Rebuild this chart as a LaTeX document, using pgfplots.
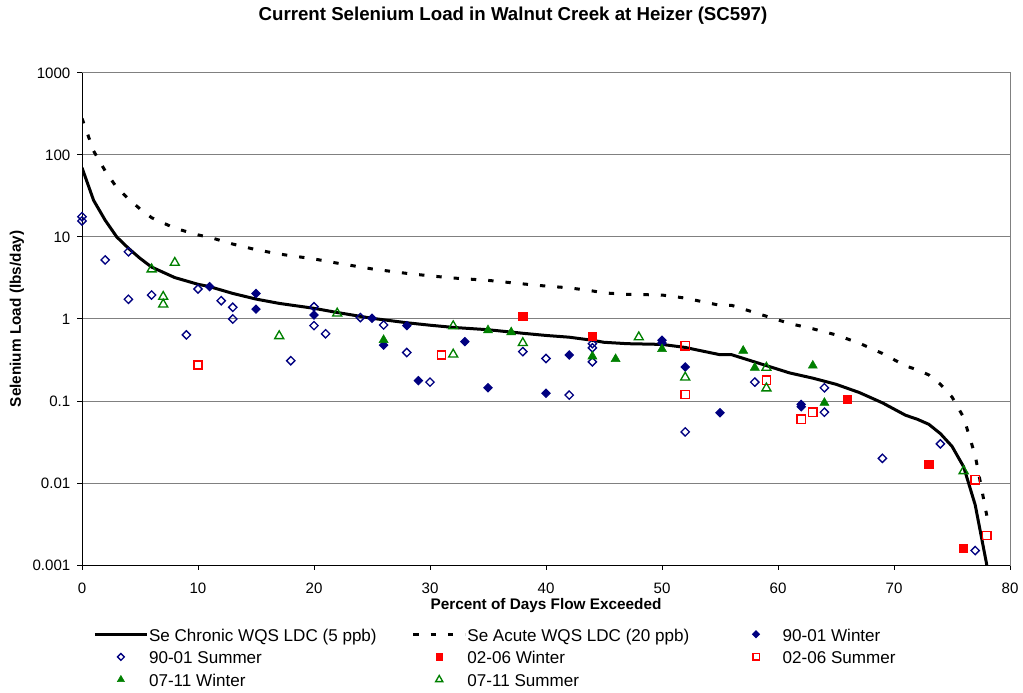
\documentclass[border=0pt]{standalone}
\usepackage{fontspec}
\setmainfont{Liberation Sans}
\usepackage{pgfplots}
\pgfplotsset{compat=1.18}
\definecolor{navy}{HTML}{000080}
\definecolor{xred}{HTML}{FF0000}
\definecolor{xgreen}{HTML}{008000}
\definecolor{gridgray}{HTML}{808080}
\pgfplotsset{
  mylegline/.style={legend image code/.code={\draw[##1] (0pt,2pt) -- (39pt,2pt);}},
  mylegmark/.style={legend image code/.code={\path[draw=none,fill=none] (0pt,2pt) -- (39pt,2pt); \draw[##1, mark size=#1] plot coordinates {(19.5pt,2pt)};}},
}
\newcommand{\lt}[1]{\makebox[197.5pt][l]{\hspace{0.5pt}#1}}
\begin{document}
\begin{tikzpicture}
\useasboundingbox (0,0) rectangle (767.25pt,519pt);
\node[font=\bfseries\fontsize{14}{16}\selectfont, anchor=center] at (384.75pt,507pt) {Current Selenium Load in Walnut Creek at Heizer (SC597)};
\begin{axis}[
  at={(61.5pt,95.25pt)}, anchor=south west,
  scale only axis, width=696pt, height=369pt,
  xmin=0, xmax=80, ymode=log, ymin=0.001, ymax=1000,
  xtick={0,10,20,30,40,50,60,70,80},
  xticklabels={0,10,20,30,40,50,60,70,80},
  ytick={0.001,0.01,0.1,1,10,100,1000},
  yticklabels={0.001,0.01,0.1,1,10,100,1000},
  yminorticks=false, xminorticks=false,
  tick align=outside, tick pos=left, major tick length=3.75pt,
  tick style={black, line width=0.75pt},
  ymajorgrids, grid style={gridgray, line width=0.75pt},
  axis line style={gridgray, line width=0.75pt},
  ticklabel style={font=\fontsize{11.3}{13}\selectfont},
  xticklabel style={yshift=-6pt},
  yticklabel style={xshift=-1.5pt},
  xlabel={Percent of Days Flow Exceeded},
  xlabel style={at={(axis description cs:0.5,-0.0833)}, anchor=center, font=\bfseries\fontsize{11.5}{13}\selectfont},
  ylabel={Selenium Load (lbs/day)},
  ylabel style={at={(axis description cs:-0.070,0.5)}, anchor=center, rotate=0, font=\bfseries\fontsize{11.5}{13}\selectfont},
  legend columns=3,
  legend cell align=left,
  legend style={at={(axis description cs:0.012,-0.1287)}, anchor=north west, draw=none, fill=none, inner sep=0pt,
    font=\fontsize{12.8}{15}\selectfont,
    nodes={inner sep=0pt, text height=9.5pt, text depth=3pt},
    row sep=4.5pt,
    /tikz/every even column/.append style={column sep=0pt}},
  clip=true,
]
% Chronic
\addplot[black, line width=2.25pt, line join=round, mylegline] coordinates {
(0,70) (1,28) (2,16) (3,10) (4,7.3) (5,5.5) (6,4.3) (8,3.2) (10,2.65) (11,2.48)
(13,2.05) (15,1.75) (17,1.55) (20,1.35) (22,1.2) (25,1.02) (28,0.9) (30,0.84)
(32,0.79) (35,0.74) (38,0.67) (40,0.63) (42,0.6) (44,0.55) (45,0.52) (47,0.5)
(50,0.49) (52,0.45) (53,0.42) (55,0.367) (56,0.367) (59,0.27) (61,0.22) (63,0.19)
(65,0.16) (67,0.127) (69,0.095) (71,0.067) (72,0.06) (73,0.052) (74,0.04) (75,0.028)
(76,0.0158) (77,0.0054) (78,0.001)
};
\addlegendentry{\lt{Se Chronic WQS LDC (5 ppb)}}
% Acute
\addplot[black, line width=2.25pt, dash pattern=on 4pt off 9pt, mylegline] coordinates {
(0,280) (1,112) (2,64) (3,40) (4,29.2) (5,22) (6,17.2) (8,12.8) (10,10.6) (11,9.92)
(13,8.2) (15,7) (17,6.2) (20,5.4) (22,4.8) (25,4.08) (28,3.6) (30,3.36)
(32,3.16) (35,2.96) (38,2.68) (40,2.52) (42,2.4) (44,2.2) (45,2.08) (47,2)
(50,1.96) (52,1.8) (53,1.68) (55,1.468) (56,1.468) (59,1.08) (61,0.88) (63,0.76)
(65,0.64) (67,0.508) (69,0.38) (71,0.268) (72,0.24) (73,0.208) (74,0.16) (75,0.112)
(76,0.0632) (77,0.0216) (78,0.004)
};
\addlegendentry{\lt{Se Acute WQS LDC (20 ppb)}}
% 90-01 Winter
\addplot[navy, only marks, mark=square*, mark size=2.2pt, mark options={rotate=45, solid, fill=navy, line width=0.75pt}, mylegmark=1.8pt] coordinates {
(11,2.48) (15,2.05) (15,1.32) (20,1.12) (25,1.02) (26,0.48) (28,0.83) (29,0.177)
(33,0.53) (35,0.145) (40,0.124) (42,0.364) (50,0.55) (50,0.51) (52,0.26) (55,0.072)
(62,0.091) (62,0.085)
};
\addlegendentry{\lt{90-01 Winter}}
% 90-01 Summer
\addplot[navy, only marks, mark=square, mark size=2.2pt, mark options={rotate=45, solid, fill=white, line width=1pt}, mylegmark=1.8pt] coordinates {
(0,17.7) (0,15.7) (2,5.25) (4,6.6) (4,1.74) (6,1.96) (9,0.64) (10,2.32) (12,1.67)
(13,1.39) (13,1.0) (18,0.31) (20,1.41) (20,0.83) (21,0.66) (24,1.04) (26,0.845)
(28,0.39) (30,0.17) (38,0.40) (40,0.33) (42,0.118) (44,0.50) (44,0.445) (44,0.30)
(52,0.042) (58,0.17) (64,0.145) (64,0.073) (69,0.020) (74,0.030) (77,0.0015)
};
\addlegendentry{\lt{90-01 Summer}}
% 02-06 Winter
\addplot[xred, only marks, mark=square*, mark size=3.1pt, mark options={solid, fill=xred}, mylegmark=2.4pt] coordinates {
(38,1.09) (44,0.61) (66,0.105) (73,0.0169) (76,0.0016)
};
\addlegendentry{\lt{02-06 Winter}}
% 02-06 Summer
\addplot[xred, only marks, mark=square, mark size=3.1pt, mark options={solid, fill=white, line width=1pt}, mylegmark=2.4pt] coordinates {
(10,0.275) (31,0.364) (52,0.47) (52,0.12) (59,0.18) (62,0.06) (63,0.073) (77,0.0109) (78,0.0023)
};
\addlegendentry{\lt{02-06 Summer}}
% 07-11 Winter
\addplot[xgreen, only marks, mark=triangle*, mark size=3.9pt, mark options={solid, fill=xgreen}, mylegmark=3.1pt] coordinates {
(26,0.555) (35,0.73) (37,0.69) (44,0.35) (46,0.325) (50,0.43) (57,0.41) (58,0.255) (63,0.27) (64,0.095)
};
\addlegendentry{\lt{07-11 Winter}}
% 07-11 Summer
\addplot[xgreen, only marks, mark=triangle, mark size=3.9pt, mark options={solid, fill=white, line width=1pt}, mylegmark=3.1pt] coordinates {
(6,4.04) (8,4.86) (7,1.87) (7,1.51) (17,0.62) (22,1.17) (32,0.82) (32,0.37) (38,0.51)
(48,0.60) (52,0.194) (59,0.255) (59,0.143) (76,0.014)
};
\addlegendentry{\lt{07-11 Summer}}
\draw[black, line width=0.75pt] (rel axis cs:0,1) -- (rel axis cs:0,0) -- (rel axis cs:1,0);
\end{axis}
\end{tikzpicture}
\end{document}
